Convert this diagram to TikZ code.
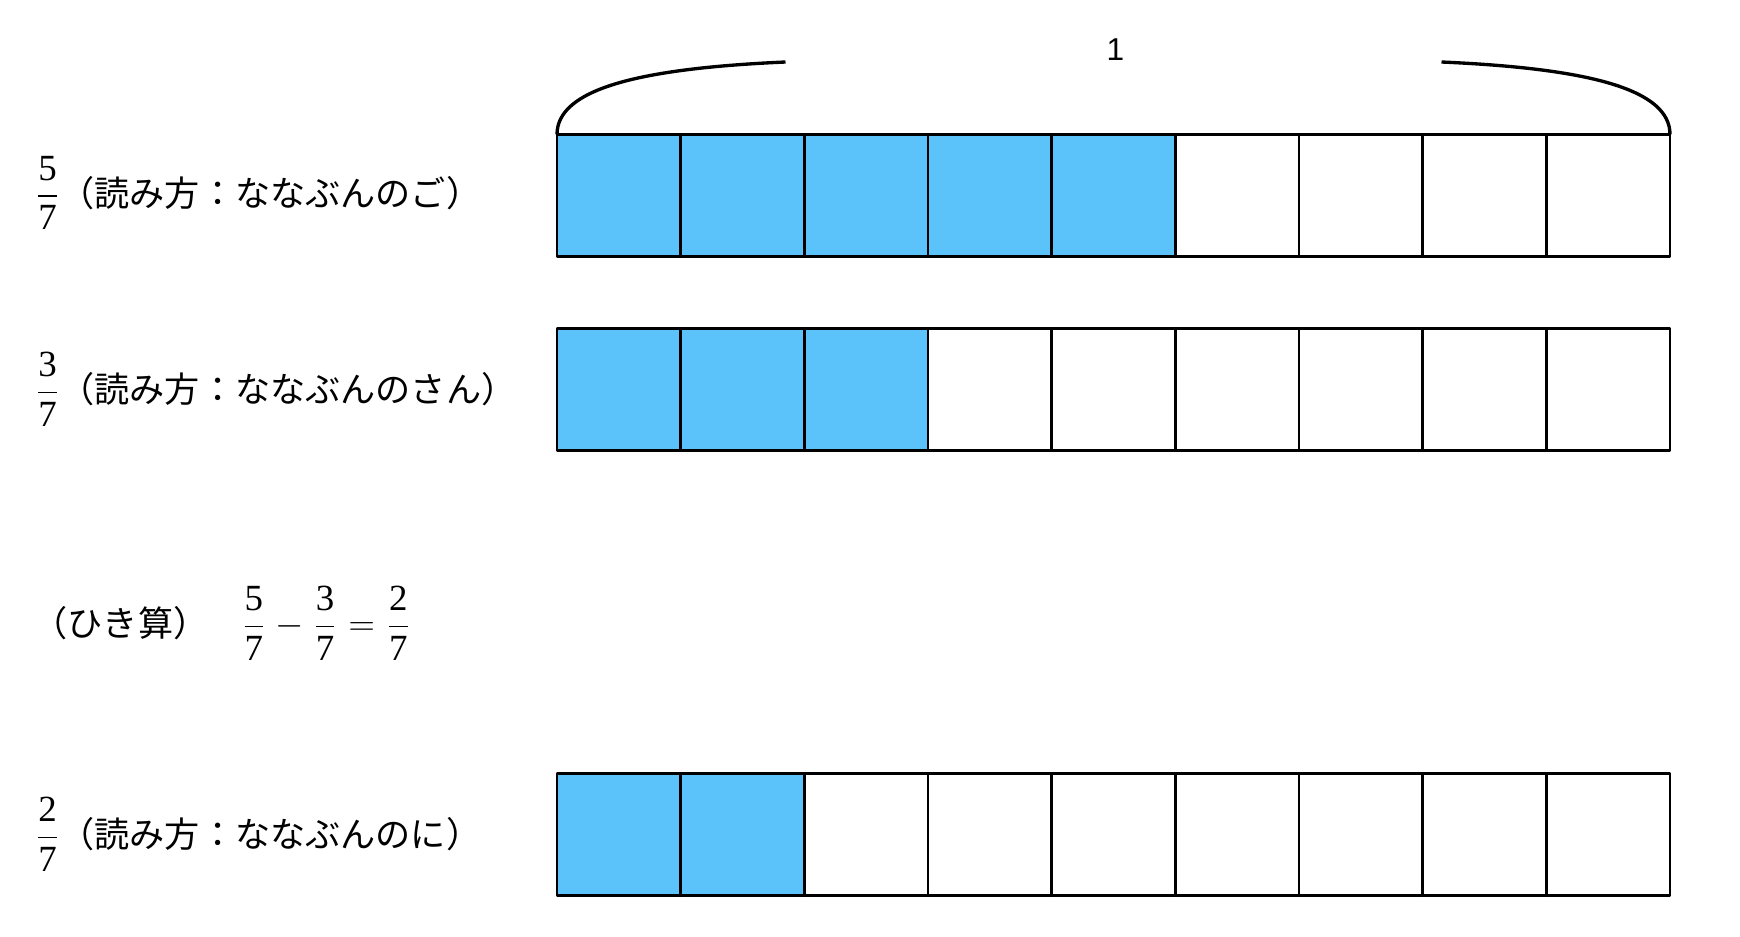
\documentclass[tikz,border=0pt]{standalone}
\usepackage{amsmath}
\usepackage{fontspec}
\setmainfont{Liberation Serif}
\newfontfamily\jpfont{Noto Sans CJK JP}
\newfontfamily\onefont{Liberation Sans}
\usetikzlibrary{positioning}
\definecolor{barblue}{RGB}{92,194,250}
\newcommand{\numfrac}[2]{\dfrac{\text{#1}}{\text{#2}}}

\begin{document}
\begin{tikzpicture}[line cap=round,line join=round,x=1.0cm,y=1.0cm,
  cellbox/.style={draw=black,line width=1.5pt},
  shadedbox/.style={cellbox,fill=barblue},
  bracearc/.style={line width=1.9pt,line cap=butt},
  jplabel/.style={inner sep=0pt,font=\jpfont\fontsize{20}{24}\selectfont},
  fraclabel/.style={inner sep=0pt,font=\fontsize{21}{25}\selectfont}]
\useasboundingbox (0,0) rectangle (34.8,18.72);

\coordinate (A) at (11.14, 16.03);
\coordinate (B) at (33.40, 16.03);
\coordinate (AL) at (15.71, 17.48);
\coordinate (BR) at (28.83, 17.48);

% three bars of nine cells
\foreach \top/\k in {16.03/5, 12.15/3, 3.25/2}{
  \foreach \i in {1,...,9}{
    \pgfmathsetmacro{\xl}{11.14+(\i-1)*2.4733}
    \ifnum\i>\k\relax
      \draw[cellbox] (\xl, \top) rectangle ++(2.4733, -2.44);
    \else
      \draw[shadedbox] (\xl, \top) rectangle ++(2.4733, -2.44);
    \fi
  }
}

% the brace over the first bar
\draw[bracearc] (A) .. controls (11.14, 16.93) and (12.74, 17.35) .. (AL);
\draw[bracearc] (BR) .. controls (31.80, 17.35) and (33.40, 16.93) .. (B);
\node[font=\onefont\fontsize{18}{21}\selectfont] (one) at (22.31, 17.72) {1};

\node[fraclabel] (fa) at (0.95, 14.86) {$\numfrac{5}{7}$};
\node[jplabel, right=0pt of fa] (ra) {（読み方：ななぶんのご）};

\node[fraclabel] (fb) at (0.95, 10.93) {$\numfrac{3}{7}$};
\node[jplabel, right=0pt of fb] (rb) {（読み方：ななぶんのさん）};

\node[jplabel] (sub) at (2.41, 6.25) {（ひき算）};
\node[fraclabel, right=0.67cm of sub] (eq) {$\numfrac{5}{7}\mkern1mu-\mkern1mu\numfrac{3}{7}\mkern1mu=\mkern1mu\numfrac{2}{7}$};

\node[fraclabel] (fc) at (0.95, 2.03) {$\numfrac{2}{7}$};
\node[jplabel, right=0pt of fc] (rc) {（読み方：ななぶんのに）};
\end{tikzpicture}
\end{document}
